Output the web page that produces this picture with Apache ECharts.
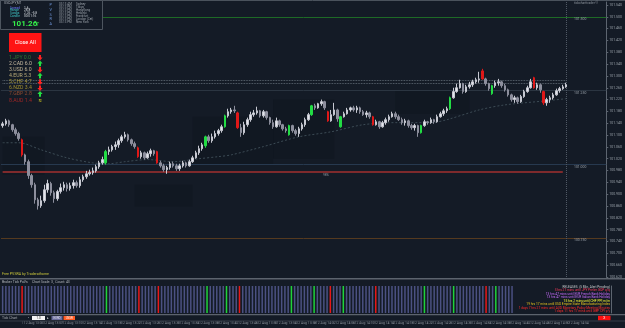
<!DOCTYPE html>
<html>
<head>
<meta charset="utf-8">
<script src="https://cdn.jsdelivr.net/npm/echarts@6/dist/echarts.min.js"></script>
<style>
  html, body { margin: 0; padding: 0; background: #141b26; }
  #chart { width: 625px; height: 328px; }
</style>
</head>
<body>
<div id="chart"></div>
<script>
// USDJPY tick chart: each candle is [open, close, low, high]
const candles = [
  [101.132,101.138,101.125,101.145],[101.138,101.148,101.132,101.155],[101.148,101.135,101.128,101.152],
  [101.135,101.118,101.111,101.138],[101.118,101.105,101.098,101.125],[101.105,101.088,101.081,101.111],
  [101.084,101.033,101.027,101.088],[101.033,101.010,101.000,101.037],[101.010,100.963,100.952,101.017],
  [100.963,100.932,100.922,100.969],[100.932,100.881,100.868,100.939],[100.881,100.861,100.848,100.888],
  [100.861,100.878,100.854,100.895],[100.878,100.915,100.871,100.932],[100.915,100.936,100.905,100.949],
  [100.936,100.905,100.895,100.942],[100.905,100.885,100.871,100.912],[100.885,100.909,100.878,100.915],
  [100.909,100.922,100.902,100.936],[100.922,100.932,100.912,100.942],[100.932,100.919,100.909,100.939],
  [100.919,100.929,100.912,100.939],[100.929,100.939,100.919,100.949],[100.939,100.929,100.922,100.946],
  [100.929,100.949,100.922,100.959],[100.949,100.959,100.942,100.966],[100.959,100.969,100.952,100.979],
  [100.969,100.973,100.963,100.983],[100.973,100.979,100.966,100.990],[100.979,100.993,100.973,101.000],
  [100.993,101.006,100.986,101.013],[101.006,101.017,101.000,101.027],[101.006,101.044,101.000,101.050],
  [101.044,101.050,101.033,101.061],[101.050,101.061,101.044,101.067],[101.061,101.067,101.050,101.078],
  [101.067,101.081,101.057,101.088],[101.081,101.094,101.074,101.101],[101.094,101.101,101.088,101.111],
  [101.101,101.084,101.078,101.105],[101.084,101.071,101.064,101.088],[101.071,101.061,101.054,101.078],
  [101.057,101.027,101.023,101.061],[101.027,101.040,101.020,101.047],[101.040,101.023,101.017,101.044],
  [101.023,101.037,101.020,101.044],[101.037,101.047,101.027,101.054],[101.047,101.037,101.030,101.050],
  [101.044,101.006,101.003,101.047],[101.006,100.996,100.990,101.013],[100.996,100.983,100.976,101.003],
  [100.983,100.990,100.969,100.996],[100.990,101.003,100.983,101.010],[101.003,100.996,100.990,101.010],
  [100.996,100.986,100.979,101.003],[100.986,100.996,100.979,101.003],[100.996,101.006,100.990,101.013],
  [101.006,100.996,100.990,101.010],[100.996,101.010,100.993,101.017],[101.010,101.023,101.006,101.030],
  [101.023,101.040,101.020,101.047],[101.040,101.054,101.033,101.064],[101.054,101.067,101.047,101.074],
  [101.064,101.094,101.057,101.098],[101.094,101.081,101.074,101.101],[101.081,101.094,101.074,101.105],
  [101.094,101.105,101.088,101.115],[101.105,101.115,101.098,101.121],[101.115,101.128,101.108,101.135],
  [101.128,101.165,101.125,101.169],[101.165,101.179,101.159,101.189],[101.179,101.185,101.172,101.192],
  [101.185,101.182,101.175,101.199],[101.175,101.125,101.121,101.179],[101.125,101.108,101.094,101.138],
  [101.108,101.135,101.101,101.145],[101.135,101.152,101.128,101.159],[101.152,101.169,101.145,101.179],
  [101.169,101.175,101.162,101.185],[101.175,101.182,101.169,101.196],[101.182,101.165,101.159,101.185],
  [101.165,101.179,101.159,101.185],[101.179,101.159,101.152,101.182],[101.159,101.142,101.135,101.162],
  [101.142,101.128,101.121,101.152],[101.128,101.148,101.125,101.159],[101.148,101.135,101.128,101.152],
  [101.135,101.121,101.115,101.138],[101.121,101.115,101.108,101.128],[101.101,101.132,101.098,101.135],
  [101.132,101.115,101.108,101.135],[101.115,101.105,101.098,101.121],[101.105,101.121,101.094,101.128],
  [101.121,101.135,101.115,101.142],[101.135,101.152,101.128,101.159],[101.152,101.169,101.148,101.175],
  [101.169,101.199,101.165,101.202],[101.199,101.192,101.185,101.206],[101.192,101.206,101.189,101.209],
  [101.206,101.213,101.199,101.220],[101.213,101.192,101.185,101.216],[101.179,101.148,101.145,101.182],
  [101.148,101.169,101.145,101.185],[101.169,101.185,101.165,101.209],[101.185,101.155,101.145,101.189],
  [101.128,101.162,101.125,101.165],[101.162,101.172,101.159,101.179],[101.172,101.185,101.169,101.192],
  [101.185,101.192,101.179,101.196],[101.192,101.185,101.179,101.199],[101.185,101.192,101.175,101.199],
  [101.192,101.179,101.172,101.196],[101.179,101.169,101.165,101.185],[101.169,101.175,101.159,101.182],
  [101.175,101.162,101.155,101.179],[101.162,101.135,101.132,101.165],[101.135,101.145,101.132,101.152],
  [101.145,101.128,101.121,101.148],[101.128,101.142,101.125,101.148],[101.142,101.152,101.135,101.159],
  [101.152,101.162,101.145,101.169],[101.162,101.172,101.159,101.179],[101.172,101.162,101.155,101.179],
  [101.162,101.152,101.148,101.169],[101.152,101.142,101.135,101.159],[101.142,101.148,101.132,101.155],
  [101.148,101.132,101.125,101.152],[101.132,101.125,101.118,101.138],[101.125,101.132,101.115,101.138],
  [101.132,101.108,101.094,101.135],[101.108,101.132,101.105,101.135],[101.132,101.145,101.128,101.152],
  [101.145,101.142,101.135,101.148],[101.142,101.152,101.138,101.159],[101.152,101.145,101.138,101.155],
  [101.145,101.162,101.142,101.169],[101.162,101.172,101.159,101.179],[101.172,101.182,101.165,101.189],
  [101.182,101.189,101.175,101.196],[101.189,101.226,101.185,101.230],[101.226,101.247,101.223,101.260],
  [101.247,101.260,101.243,101.274],[101.260,101.274,101.257,101.287],[101.274,101.247,101.240,101.277],
  [101.247,101.263,101.243,101.270],[101.263,101.270,101.257,101.280],[101.270,101.280,101.263,101.287],
  [101.280,101.287,101.274,101.294],[101.287,101.290,101.277,101.314],[101.317,101.290,101.287,101.324],
  [101.290,101.274,101.267,101.294],[101.274,101.257,101.250,101.277],[101.240,101.267,101.236,101.270],
  [101.267,101.277,101.260,101.284],[101.277,101.280,101.267,101.290],[101.280,101.267,101.260,101.284],
  [101.267,101.253,101.247,101.274],[101.253,101.236,101.230,101.257],[101.236,101.220,101.213,101.240],
  [101.220,101.226,101.209,101.233],[101.226,101.213,101.206,101.230],[101.213,101.230,101.209,101.236],
  [101.230,101.247,101.226,101.253],[101.247,101.260,101.243,101.267],[101.260,101.280,101.257,101.290],
  [101.294,101.260,101.257,101.297],[101.260,101.270,101.253,101.277],[101.270,101.253,101.243,101.274],
  [101.247,101.209,101.202,101.250],[101.209,101.220,101.199,101.226],[101.220,101.226,101.209,101.233],
  [101.226,101.236,101.220,101.243],[101.236,101.250,101.233,101.257],[101.250,101.257,101.243,101.263],
  [101.257,101.263,101.253,101.270],[101.263,101.270,101.260,101.277]
];
const emptySlots = 12;           // room to the right of the last candle
const redCandles = [6, 42, 48, 73, 101, 115, 149, 165, 168];
const greenCandles = [32, 63, 69, 89, 96, 105, 130, 139, 152];
const tickBarsShown = 158;       // tick bars drawn before the releases text

// dashed moving average, read at these candle indexes
const maIndex = [0, 5, 12, 20, 28, 33, 38, 45, 53, 61, 67, 71, 81, 92, 102, 112, 122, 133, 138, 148, 156, 169, 175];
const maValue = [101.074, 101.074, 101.050, 101.023, 101.006, 101.003, 101.010, 101.017, 101.010, 101.020, 101.027,
  101.033, 101.061, 101.094, 101.111, 101.135, 101.142, 101.142, 101.152, 101.185, 101.202, 101.216, 101.223];

const levelValues = [101.500, 101.250, 101.000, 100.750];
const levelColors = ['#1e6a26', '#2b3541', '#27394f', '#553a1f'];
const pivotLine = 100.976;       // "98%" line
const bidAsk = [101.284, 101.274];

const timeLabels = ['12 Aug 12:59','12 Aug 13:03','12 Aug 13:07','12 Aug 13:10','12 Aug 13:14','12 Aug 13:18',
  '12 Aug 13:22','12 Aug 13:26','12 Aug 13:30','12 Aug 13:34','12 Aug 13:38','12 Aug 13:42','12 Aug 13:46',
  '12 Aug 13:50','12 Aug 13:54','12 Aug 13:58','12 Aug 14:02','12 Aug 14:06','12 Aug 14:10','12 Aug 14:14',
  '12 Aug 14:18','12 Aug 14:22','12 Aug 14:26','12 Aug 14:30','12 Aug 14:34','12 Aug 14:38','12 Aug 14:42',
  '12 Aug 14:46','12 Aug 14:50','12 Aug 14:54'];

const currencies = ['1.JPY 0.0', '2.CAD 6.0', '3.USD 6.0', '4.EUR 5.3', '5.CHF 4.7', '6.NZD 3.4', '7.GBP 2.8', '8.AUD 1.4'];
const currencyColors = ['#2f7a33', '#c9bba2', '#c2b394', '#b9aa78', '#aa9a3c', '#a08f30', '#8e4a30', '#a02626'];
const currencyArrows = ['down', 'up', 'down', 'up', 'down', 'down', 'up', 'flat'];

const sessions = ['03:13 AM', '03:13 PM', '03:13 PM', '03:13 PM', '03:13 PM', '03:13 PM', '03:13 PM'];
const sessionCities = ['Sydney', 'Tokyo', 'HongKong', 'Helsinki', 'Frankfurt', 'London (Cet)', 'New York'];

const releases = [
  ['RELEASES  (5 Min. Alert Pending)', '#c8cacc'],
  ['3 hrs 27 mins until JPY Prelim GDP q/q', '#ff3a5c'],
  ['13 hrs 47 mins until EUR French Bank Holiday', '#c86cff'],
  ['13 hrs 47 mins until EUR Italian Bank Holiday', '#c86cff'],
  ['15 hrs 2 mins until CHF PPI m/m', '#ffff33'],
  ['19 hrs 17 mins until USD Empire State Manufacturing Index', '#e6c21e'],
  ['1 days 7 hrs 27 mins until AUD Monetary Policy Meeting Minutes', '#ff2a2a'],
  ['1 days 11 hrs 17 mins until GBP CPI y/y', '#ff2a2a']
];

const categories = Array.from({ length: candles.length + emptySlots }, (_, i) => String(i));

const candleData = candles.map((c, i) => {
  if (redCandles.includes(i)) return { value: c, itemStyle: { color: '#e01818', color0: '#e01818', borderColor: '#e01818', borderColor0: '#e01818' } };
  if (greenCandles.includes(i)) return { value: c, itemStyle: { color: '#22dd44', color0: '#22dd44', borderColor: '#22dd44', borderColor0: '#22dd44' } };
  return c;
});

const maData = categories.map(() => null);
maIndex.forEach((k, j) => { maData[k] = maValue[j]; });

const tickData = candles.map((c, i) => {
  if (i >= tickBarsShown) return null;
  let color = '#4b5182';
  if (redCandles.includes(i)) color = '#e81818';
  if (greenCandles.includes(i)) color = '#1fd43a';
  return { value: 1, itemStyle: { color: color } };
});

const last = candles[candles.length - 1];
const lastIdx = candles.length - 1;
const FONT = 'Roboto, "DejaVu Sans", sans-serif';

function txt(x, y, text, fill, size, extra) {
  return Object.assign({ type: 'text', x: x, y: y, silent: true, z: 100,
    style: Object.assign({ text: text, fill: fill, fontSize: size, fontFamily: FONT, verticalAlign: 'middle' }, extra || {}) });
}
function arrow(x, y, dir, color) {
  const pts = dir === 'up'
    ? [[x, y - 3], [x + 2.6, y], [x + 1, y], [x + 1, y + 2.6], [x - 1, y + 2.6], [x - 1, y], [x - 2.6, y]]
    : [[x, y + 3], [x + 2.6, y], [x + 1, y], [x + 1, y - 2.6], [x - 1, y - 2.6], [x - 1, y], [x - 2.6, y]];
  return { type: 'polygon', silent: true, z: 100, shape: { points: pts }, style: { fill: color } };
}

const graphics = [];
// separators
graphics.push({ type: 'line', silent: true, z: 90, shape: { x1: 0, y1: 0.5, x2: 625, y2: 0.5 }, style: { stroke: '#4a525c', lineWidth: 1 } });
graphics.push({ type: 'line', silent: true, z: 90, shape: { x1: 0, y1: 278.8, x2: 625, y2: 278.8 }, style: { stroke: '#5c636d', lineWidth: 1.6 } });
graphics.push({ type: 'line', silent: true, z: 90, shape: { x1: 0, y1: 314.6, x2: 625, y2: 314.6 }, style: { stroke: '#5c636d', lineWidth: 1.4 } });
graphics.push({ type: 'line', silent: true, z: 90, shape: { x1: 0, y1: 321, x2: 625, y2: 321 }, style: { stroke: '#353d47', lineWidth: 1 } });

// info panel top-left
graphics.push({ type: 'rect', silent: true, z: 95, shape: { x: 0.5, y: 0.5, width: 102, height: 29 }, style: { fill: '#141b26', stroke: '#4d555f', lineWidth: 1 } });
graphics.push(txt(4, 3, 'USDJPY,M1', '#a6acb3', 3.4));
const infoRows = [['Spread', '1.6', '#6c7cff'], ['Range', '28.8', '#3ec6c6'], ['Swaps', '2.26  -5.8', '#3ec6c6'], ['Candle', '00:01:16', '#3ec6c6']];
infoRows.forEach((r, k) => {
  graphics.push(txt(10, 7.8 + k * 2.7, r[0], r[2], 3.2));
  graphics.push(txt(24, 7.8 + k * 2.7, r[1], '#d6dbe0', 3.2));
});
graphics.push(txt(12, 23.5, '101.26', '#35f04a', 8, { fontWeight: 'bold' }));
graphics.push(txt(36, 24.8, '7', '#35f04a', 5));
['P', 'V', 'S', 'R', 'A'].forEach((ch, k) => graphics.push(txt(49.5, 5 + k * 4.8, ch, '#6d93d6', 3.8)));
sessions.forEach((t, k) => {
  graphics.push(txt(59, 4 + k * 3.1, t, '#9aa1a9', 3));
  graphics.push(txt(76, 4 + k * 3.1, sessionCities[k], '#9aa1a9', 3));
});

// Close All button
graphics.push({ type: 'rect', silent: true, z: 95, shape: { x: 9, y: 33, width: 32.5, height: 19 }, style: { fill: '#ff1414' } });
graphics.push(txt(25.2, 42.8, 'Close All', '#ffffff', 5.4, { align: 'center' }));

// currency strength list
currencies.forEach((c, k) => {
  const y = 57.5 + k * 6.1;
  graphics.push(txt(9, y, c, currencyColors[k], 5.2));
  if (currencyArrows[k] === 'flat') graphics.push(txt(40, y, '≈', '#e2dc1e', 5.5, { align: 'center', fontWeight: 'bold' }));
  else graphics.push(arrow(40, y, currencyArrows[k], currencyArrows[k] === 'up' ? '#22e044' : '#ff2222'));
});

// level labels next to the current bar
levelValues.forEach((v, k) => graphics.push(txt(574, [19.5, 93, 167, 240.5][k], v.toFixed(3), '#9aa2aa', 3.4)));
graphics.push(txt(323, 175.5, '98%', '#8c939b', 3.2));
graphics.push(txt(598, 3, 'tickcharttrader ©', '#8c939b', 3.2, { align: 'right' }));

// lower panels text
graphics.push(txt(2, 274.5, 'Free PVSRA by Traderathome', '#c8c43a', 3.6));
graphics.push(txt(2, 281.8, 'Broker Tick PoVs     Chart Scale: 3,  Count: 43', '#b4b8bd', 3.4));
releases.forEach((r, k) => graphics.push(txt(610, 286.8 + k * 3.55, r[0], r[1], 3.2, { align: 'right' })));

// tick chart toolbar
graphics.push(txt(2, 318, 'Tick Chart', '#a9aeb4', 3.4));
graphics.push(txt(28, 318, '•', '#c9ccd0', 3.4));
graphics.push({ type: 'rect', silent: true, z: 95, shape: { x: 32, y: 316, width: 13, height: 4 }, style: { fill: '#f4f4f4' } });
graphics.push(txt(38.5, 318, '1.0', '#222', 3, { align: 'center' }));
graphics.push(txt(47, 318, '▸', '#c9ccd0', 3.4));
graphics.push({ type: 'rect', silent: true, z: 95, shape: { x: 51.5, y: 316, width: 11, height: 4 }, style: { fill: '#6b6d9c' } });
graphics.push(txt(57, 318, 'EURO', '#e6e6f0', 2.8, { align: 'center' }));
graphics.push({ type: 'rect', silent: true, z: 95, shape: { x: 63.5, y: 316, width: 11.5, height: 4 }, style: { fill: '#ff5a22' } });
graphics.push(txt(69.2, 318, 'USSR', '#fff', 2.8, { align: 'center' }));
graphics.push({ type: 'rect', silent: true, z: 95, shape: { x: 598, y: 315.8, width: 12.5, height: 4.4 }, style: { fill: '#ff1010' } });
graphics.push(txt(604.2, 318, 'X', '#fff', 3.2, { align: 'center' }));

const chart = echarts.init(document.getElementById('chart'), null, { renderer: 'canvas' });
chart.setOption({
  backgroundColor: '#141b26',
  animation: false,
  grid: [
    { left: 1, right: 14, top: 2, height: 275 },
    { left: 1, right: 14, top: 286, height: 27 }
  ],
  xAxis: [
    { type: 'category', gridIndex: 0, data: categories, boundaryGap: true,
      axisLine: { show: false }, axisTick: { show: false }, axisLabel: { show: false }, splitLine: { show: false } },
    { type: 'category', gridIndex: 1, data: categories, boundaryGap: true,
      axisLine: { show: false }, axisTick: { show: false }, splitLine: { show: false },
      axisLabel: { show: true, interval: 5, align: 'left', margin: 9, fontSize: 3.4, color: '#8b929a', fontFamily: FONT,
        formatter: (v, i) => timeLabels[i / 6] ? '| ' + timeLabels[i / 6] : '' } }
  ],
  yAxis: [
    { type: 'value', gridIndex: 0, position: 'right', min: 100.62, max: 101.55, interval: 0.04,
      axisLine: { show: true, lineStyle: { color: '#5d6570', width: 1 } },
      axisTick: { show: true, length: 2, lineStyle: { color: '#5d6570' } },
      splitLine: { show: false },
      axisLabel: { show: true, margin: 3, fontSize: 3.5, color: '#98a0a8', fontFamily: FONT, showMaxLabel: false,
        formatter: v => v.toFixed(3) } },
    { type: 'value', gridIndex: 1, position: 'right', min: 0, max: 1,
      axisLine: { show: true, lineStyle: { color: '#5d6570' } }, axisTick: { show: false },
      axisLabel: { show: false }, splitLine: { show: false } }
  ],
  series: [
    {
      type: 'candlestick', xAxisIndex: 0, yAxisIndex: 0, data: candleData, barWidth: 2,
      itemStyle: { color: '#e4e5ec', color0: '#8d8f9d', borderColor: '#c7c9d2', borderColor0: '#8d8f9d', borderWidth: 1 },
      markArea: {
        silent: true,
        itemStyle: { color: 'rgba(6,10,16,0.18)' },
        data: [
          [{ coord: [0, 101.094] }, { coord: [13, 100.966] }],
          [{ coord: [41, 100.932] }, { coord: [59, 100.858] }],
          [{ coord: [59, 101.162] }, { coord: [84, 101.003] }],
          [{ coord: [84, 101.220] }, { coord: [103, 101.020] }],
          [{ coord: [122, 101.250] }, { coord: [145, 101.172] }]
        ]
      },
      markLine: {
        silent: true, symbol: 'none', animation: false,
        label: { show: false },
        data: [
          ...levelValues.map((v, k) => ({ yAxis: v, lineStyle: { color: levelColors[k], width: 1, type: 'solid' } })),
          [{ coord: [0, pivotLine], lineStyle: { color: '#7e2a2c', width: 2, type: 'solid' } }, { coord: [lastIdx - 1, pivotLine] }],
          ...bidAsk.map(v => [{ coord: [0, v], lineStyle: { color: '#6f7884', width: 0.8, type: 'dotted' } }, { coord: [lastIdx, v] }]),
          { xAxis: lastIdx, lineStyle: { color: '#505965', width: 1, type: 'dotted' } },
          { yAxis: last[1], lineStyle: { opacity: 0 },
            label: { show: true, position: 'end', distance: 1.5, formatter: () => last[1].toFixed(3), fontSize: 3.5,
              color: '#1a1f26', backgroundColor: '#b9bdc4', padding: [1, 1], fontFamily: FONT } }
        ]
      },
      z: 5
    },
    {
      type: 'line', xAxisIndex: 0, yAxisIndex: 0, data: maData, connectNulls: true, symbol: 'none', smooth: 0.3,
      lineStyle: { color: '#3c4b55', width: 1, type: [2, 2] }, z: 3, silent: true
    },
    {
      type: 'line', xAxisIndex: 0, yAxisIndex: 0, silent: true, z: 6,
      data: categories.map((c, i) => (i === lastIdx ? last[1] + 0.007 : null)),
      symbol: 'path://M1,0H2V1H3V2H2V3H1V2H0V1H1Z', symbolSize: 4, itemStyle: { color: '#2ee84a' }, lineStyle: { opacity: 0 }
    },
    {
      type: 'bar', xAxisIndex: 1, yAxisIndex: 1, data: tickData, barWidth: 1.5, silent: true
    }
  ],
  graphic: graphics
});
</script>
</body>
</html>
